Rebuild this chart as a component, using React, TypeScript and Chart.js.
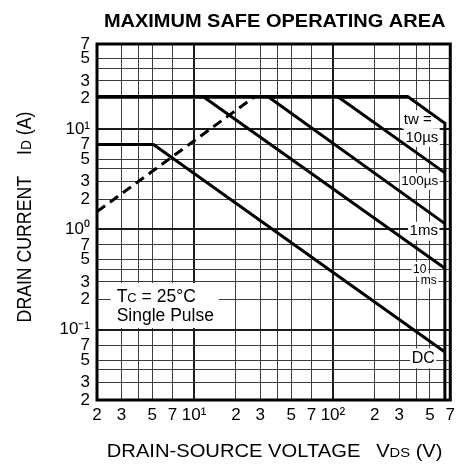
import React, { useEffect, useRef } from 'react';
import { Chart, registerables } from 'chart.js';

Chart.register(...registerables);

const FONT = '"Liberation Sans", Arial, Helvetica, sans-serif';

// ---- axes ----
const xTickValues = [2, 3, 4, 5, 7, 10, 20, 30, 40, 50, 70, 100, 200, 300, 400, 500, 700];
const xTickLabels = ['2', '3', '', '5', '7', '10¹', '2', '3', '', '5', '7', '10²', '2', '3', '', '5', '7'];
const yTickValues = [0.02, 0.03, 0.04, 0.05, 0.07, 0.1, 0.2, 0.3, 0.4, 0.5, 0.7, 1, 2, 3, 4, 5, 7, 10, 20, 30, 40, 50, 70];
const yTickLabels = ['2', '3', '', '5', '7', '10⁻¹', '2', '3', '', '5', '7', '10⁰', '2', '3', '', '5', '7', '10¹', '2', '3', '', '5', '7'];

// ---- series: VDS (V) -> ID (A) ----
const limit10usV = [2, 345, 640, 640];
const limit10usI = [21, 21, 11.4, 0.02];
const limit100usV = [108, 640];
const limit100usI = [21, 3.65];
const limit1msV = [34, 640];
const limit1msI = [21, 1.14];
const limit10msV = [11.6, 640];
const limit10msI = [21, 0.41];
const limitDCV = [2, 5.1, 640];
const limitDCI = [7, 7, 0.06];
const rdsLimitV = [2, 27.4];
const rdsLimitI = [1.5, 21];

// ---- curve labels ----
const pulseLabels = ['tw =', '10µs', '100µs', '1ms', '10', 'ms', 'DC'];
const pulseLabelV = [408, 437, 422, 451, 422, 490, 447];
const pulseLabelI = [12.4, 8.2, 3.0, 0.96, 0.4, 0.305, 0.052];
const pulseLabelSize = [15, 15, 13.5, 15, 12, 12, 16];

// ---- condition note ----
const noteV = 2.77;
const noteLine1I = 0.217;
const noteLine2I = 0.14;

const toPts = (xs: number[], ys: number[]) => xs.map((x, i) => ({ x, y: ys[i] }));

type Run = { t: string; s: number; gap?: number; bold?: boolean };

function runsWidth(ctx: CanvasRenderingContext2D, runs: Run[]) {
  let w = 0;
  for (const r of runs) {
    if (r.gap) { w += r.gap; continue; }
    ctx.font = `${r.bold ? 'bold ' : ''}${r.s}px ${FONT}`;
    w += ctx.measureText(r.t).width;
  }
  return w;
}

function drawRuns(ctx: CanvasRenderingContext2D, runs: Run[], x: number, y: number) {
  let cx = x;
  ctx.textAlign = 'left';
  ctx.textBaseline = 'alphabetic';
  for (const r of runs) {
    if (r.gap) { cx += r.gap; continue; }
    ctx.font = `${r.bold ? 'bold ' : ''}${r.s}px ${FONT}`;
    ctx.fillText(r.t, cx, y);
    cx += ctx.measureText(r.t).width;
  }
}

const decade = (v: number) => Math.abs(Math.log10(v) - Math.round(Math.log10(v))) < 1e-6;
const findIdx = (arr: number[], v: number) => arr.findIndex((t) => Math.abs(t - v) / t < 1e-6);

const annotPlugin = {
  id: 'soaAnnot',
  beforeDatasetsDraw(chart: any) {
    const { ctx, scales } = chart;
    const x = scales.x;
    const y = scales.y;
    ctx.save();
    // curve labels with white backing
    pulseLabels.forEach((t, i) => {
      const px = x.getPixelForValue(pulseLabelV[i]);
      const py = y.getPixelForValue(pulseLabelI[i]);
      const s = pulseLabelSize[i];
      ctx.font = `${s}px ${FONT}`;
      const w = ctx.measureText(t).width;
      const h = s * 0.62;
      ctx.fillStyle = '#fff';
      ctx.fillRect(px - w / 2 - 1.5, py - h, w + 3, 2 * h);
      ctx.fillStyle = '#000';
      ctx.textAlign = 'center';
      ctx.textBaseline = 'middle';
      ctx.fillText(t, px, py);
    });
    // condition note
    const l1: Run[] = [{ t: 'T', s: 17.5 }, { t: 'C', s: 13 }, { t: ' = 25°C', s: 17.5 }];
    const l2: Run[] = [{ t: 'Single Pulse', s: 17.5 }];
    const nx = x.getPixelForValue(noteV);
    const ny1 = y.getPixelForValue(noteLine1I);
    const ny2 = y.getPixelForValue(noteLine2I);
    const w = Math.max(runsWidth(ctx, l1), runsWidth(ctx, l2));
    ctx.fillStyle = '#fff';
    ctx.fillRect(nx - 6, ny1 - 13, w + 11, ny2 - ny1 + 26);
    ctx.fillStyle = '#000';
    drawRuns(ctx, l1, nx, ny1 + 0.358 * 17.5);
    drawRuns(ctx, l2, nx, ny2 + 0.358 * 17.5);
    ctx.restore();
  },
  afterDatasetsDraw(chart: any) {
    const { ctx, chartArea } = chart;
    const { left, right, top, bottom } = chartArea;
    ctx.save();
    // frame
    ctx.strokeStyle = '#000';
    ctx.lineWidth = 3;
    ctx.strokeRect(left, top, right - left, bottom - top);
    ctx.fillStyle = '#000';
    const cxm = (left + right) / 2 + 1;

    // chart title
    const tRuns: Run[] = [{ t: 'MAXIMUM SAFE OPERATING AREA', s: 18, bold: true }];
    const tw = runsWidth(ctx, tRuns);
    ctx.save();
    ctx.translate(cxm, 26.7);
    ctx.scale(1.11, 1);
    drawRuns(ctx, tRuns, -tw / 2, 0);
    ctx.restore();

    // x title
    const xRuns: Run[] = [
      { t: 'DRAIN-SOURCE VOLTAGE', s: 18.5 },
      { t: '', s: 0, gap: 14.5 },
      { t: 'V', s: 18.5 },
      { t: 'DS', s: 13.5 },
      { t: ' (V)', s: 18.5 },
    ];
    const xw = runsWidth(ctx, xRuns);
    ctx.save();
    ctx.translate(cxm, 456.7);
    ctx.scale(1.09, 1);
    drawRuns(ctx, xRuns, -xw / 2, 0);
    ctx.restore();

    // y title
    const yRuns: Run[] = [
      { t: 'DRAIN CURRENT', s: 17.7 },
      { t: '', s: 0, gap: 21 },
      { t: 'I', s: 17.7 },
      { t: 'D', s: 13.8 },
      { t: ' (A)', s: 17.7 },
    ];
    const yw = runsWidth(ctx, yRuns);
    ctx.save();
    ctx.translate(24, (top + bottom) / 2 - 5);
    ctx.scale(1.1, 1);
    ctx.rotate(-Math.PI / 2);
    drawRuns(ctx, yRuns, -yw / 2, 0.358 * 17.7);
    ctx.restore();

    ctx.restore();
  },
};

export default function App() {
  const ref = useRef<HTMLCanvasElement>(null);
  useEffect(() => {
    const canvas = ref.current;
    if (!canvas) return;
    const gridWidth = (c: any) => (c.tick && decade(c.tick.value) ? 2 : 1);
    const gridColor = (c: any) => (c.tick && decade(c.tick.value) ? '#1c1c1c' : '#3c3c3c');
    const line = (data: any[], dash: number[] = []) => ({
      data,
      borderColor: '#000',
      backgroundColor: '#000',
      borderWidth: 3,
      pointRadius: 0,
      borderDash: dash,
      fill: false,
      tension: 0,
      borderJoinStyle: 'miter',
    });
    const chart = new Chart(canvas, {
      type: 'line',
      data: {
        datasets: [
          line(toPts(limit10usV, limit10usI)),
          line(toPts(limit100usV, limit100usI)),
          line(toPts(limit1msV, limit1msI)),
          line(toPts(limit10msV, limit10msI)),
          line(toPts(limitDCV, limitDCI)),
          line(toPts(rdsLimitV, rdsLimitI), [10, 6]),
        ] as any,
      },
      options: {
        responsive: true,
        maintainAspectRatio: false,
        animation: false,
        events: [],
        layout: { padding: { top: 44, right: 9, left: 0, bottom: 0 } },
        plugins: {
          legend: { display: false },
          tooltip: { enabled: false },
          title: { display: false },
        },
        scales: {
          x: {
            type: 'logarithmic',
            min: 2,
            max: 700,
            afterBuildTicks: (s: any) => {
              s.ticks = xTickValues.map((v) => ({ value: v }));
            },
            afterFit: (s: any) => {
              s.height = 73;
            },
            ticks: {
              autoSkip: false,
              maxRotation: 0,
              minRotation: 0,
              padding: 5,
              color: '#000',
              font: { family: FONT, size: 17 },
              callback: (v: any) => {
                const i = findIdx(xTickValues, Number(v));
                return i >= 0 ? xTickLabels[i] : '';
              },
            },
            grid: { drawTicks: false, color: gridColor, lineWidth: gridWidth },
            border: { display: false },
          },
          y: {
            type: 'logarithmic',
            min: 0.02,
            max: 70,
            afterBuildTicks: (s: any) => {
              s.ticks = yTickValues.map((v) => ({ value: v }));
            },
            afterFit: (s: any) => {
              s.width = 97;
            },
            ticks: {
              autoSkip: false,
              padding: 7,
              color: '#000',
              font: { family: FONT, size: 17 },
              callback: (v: any) => {
                const i = findIdx(yTickValues, Number(v));
                return i >= 0 ? yTickLabels[i] : '';
              },
            },
            grid: { drawTicks: false, color: gridColor, lineWidth: gridWidth },
            border: { display: false },
          },
        },
      } as any,
      plugins: [annotPlugin],
    });
    return () => chart.destroy();
  }, []);
  return (
    <div style={{ position: 'fixed', left: 0, top: 0, width: 460, height: 473, background: '#fff' }}>
      <canvas ref={ref} />
    </div>
  );
}
